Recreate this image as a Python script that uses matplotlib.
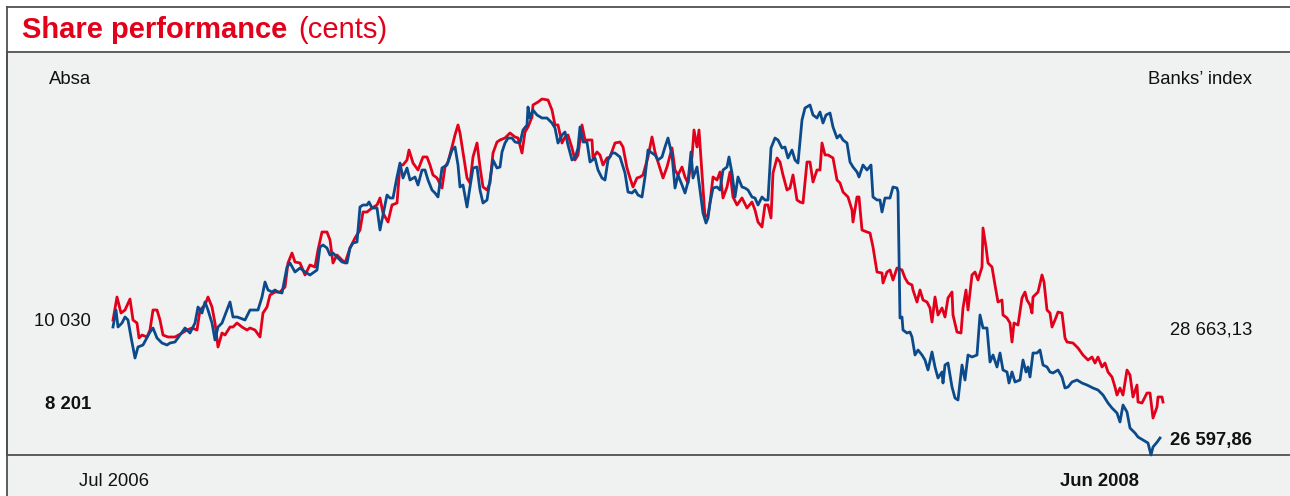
import matplotlib
matplotlib.use("Agg")
import matplotlib.pyplot as plt
from matplotlib.patches import Rectangle

# Absa share price (cents) and Banks' index, x in weeks since 1 Jul 2006
absa = [
    (0.0, 10030), (0.4, 10543), (0.8, 10186), (1.2, 10253), (1.7, 10498), (2.0, 10030),
    (2.4, 9963), (2.6, 9629), (2.9, 9695), (3.4, 9651), (3.7, 9807), (4.0, 10253),
    (4.4, 10253), (4.7, 10030), (5.0, 9695), (5.5, 9651), (6.2, 9651), (6.9, 9740),
    (7.4, 9807), (7.9, 9852), (8.4, 9807), (8.7, 10253), (9.2, 10365), (9.5, 10543),
    (9.9, 10320), (10.2, 9963), (10.5, 9428), (10.9, 9740), (11.2, 9695), (11.7, 9874),
    (12.0, 9874), (12.4, 9963), (12.9, 9874), (13.4, 9807), (13.7, 9852), (14.2, 9807),
    (14.7, 9651), (15.0, 10186), (15.4, 10320), (15.7, 10588), (16.2, 10654), (16.7, 10654),
    (17.2, 10766), (17.5, 11301), (17.9, 11524), (18.2, 11323), (18.7, 11301), (19.2, 11034),
    (19.7, 11257), (20.2, 11212), (20.5, 11591), (20.9, 11992), (21.4, 11992), (21.7, 11814),
    (22.0, 11301), (22.4, 11480), (22.9, 11368), (23.2, 11301), (23.7, 11636), (24.2, 11859),
    (24.7, 12037), (25.0, 12438), (25.4, 12438), (25.9, 12528), (26.4, 12595), (26.7, 12751),
    (27.0, 12416), (27.5, 12215), (27.9, 12595), (28.4, 12639), (28.7, 13487), (29.0, 13487),
    (29.4, 13598), (29.6, 13821), (30.0, 13531), (30.5, 13375), (31.0, 13665), (31.4, 13665),
    (31.7, 13487), (32.0, 13264), (32.4, 13197), (32.9, 12974), (33.2, 13442), (33.5, 13553),
    (33.9, 13888), (34.2, 14156), (34.5, 14379), (34.7, 14200), (35.0, 13776), (35.4, 13197),
    (35.7, 13085), (36.0, 13665), (36.4, 13977), (36.7, 13442), (37.0, 12996), (37.4, 12929),
    (37.7, 13085), (38.0, 13754), (38.4, 13999), (38.7, 14044), (39.2, 14089), (39.7, 14200),
    (40.2, 14111), (40.5, 14089), (40.9, 13754), (41.2, 14222), (41.5, 14334), (41.9, 14557),
    (42.0, 14825), (42.5, 14891), (42.9, 14958), (43.5, 14936), (43.9, 14713), (44.2, 14379),
    (44.5, 14379), (44.9, 13977), (45.2, 14111), (45.5, 14156), (45.9, 13866), (46.2, 13598),
    (46.5, 13710), (46.9, 14379), (47.2, 14044), (47.5, 14044), (47.9, 14044), (48.0, 13643),
    (48.4, 13776), (48.7, 13710), (49.0, 13487), (49.4, 13643), (49.7, 13665), (50.2, 13977),
    (50.7, 13999), (51.0, 13888), (51.4, 13420), (51.7, 13197), (52.0, 12996), (52.4, 13197),
    (52.7, 13219), (53.0, 13264), (53.5, 13665), (53.9, 14111), (54.2, 13776), (54.5, 13553),
    (55.0, 13197), (55.4, 13442), (55.9, 13866), (56.2, 13375), (56.5, 13264), (56.9, 13442),
    (57.2, 13219), (57.5, 13085), (57.9, 13665), (58.1, 14267), (58.4, 13888), (58.6, 14267),
    (58.9, 13308), (59.2, 12327), (59.5, 12372), (59.7, 12639), (60.0, 13219), (60.4, 13152),
    (60.7, 13330), (61.0, 12751), (61.4, 12996), (61.7, 13330), (62.0, 12773), (62.4, 12595),
    (62.9, 12751), (63.4, 12528), (63.9, 12661), (64.2, 12483), (64.5, 12215), (64.9, 12104),
    (65.2, 12595), (65.5, 12595), (65.8, 12305), (66.0, 13308), (66.4, 13643), (66.7, 13553),
    (67.0, 13264), (67.4, 12929), (67.7, 12974), (68.0, 13264), (68.4, 12706), (68.7, 12661),
    (69.0, 12639), (69.4, 13553), (69.7, 13553), (70.0, 13107), (70.4, 13375), (70.7, 13375),
    (70.9, 13977), (71.2, 13710), (71.5, 13710), (72.0, 13643), (72.4, 13152), (72.7, 13085),
    (73.0, 12884), (73.5, 12773), (73.9, 12483), (74.0, 12215), (74.4, 12773), (74.6, 12773),
    (74.9, 12037), (75.4, 11992), (75.7, 11970), (76.0, 11658), (76.4, 11100), (76.9, 11078),
    (77.0, 10855), (77.4, 11100), (77.7, 11145), (78.0, 10922), (78.4, 11190), (78.9, 11145),
    (79.2, 10967), (79.5, 10855), (79.9, 10811), (80.0, 10699), (80.4, 10431), (80.7, 10699),
    (81.0, 10476), (81.4, 10431), (81.7, 10298), (81.9, 9985), (82.2, 10543), (82.5, 10142),
    (82.9, 10298), (83.2, 10097), (83.5, 10521), (83.9, 10654), (84.0, 10142), (84.4, 9762),
    (84.8, 9740), (85.0, 10298), (85.3, 10699), (85.5, 10253), (85.9, 11034), (86.2, 11100),
    (86.5, 10922), (86.9, 11212), (87.0, 12082), (87.3, 11658), (87.5, 11301), (87.9, 11212),
    (88.2, 10811), (88.5, 10431), (88.9, 10476), (89.0, 10142), (89.4, 10075), (89.7, 9963),
    (89.9, 9539), (90.1, 9963), (90.5, 9918), (90.9, 10521), (91.2, 10654), (91.4, 10476),
    (91.7, 10365), (91.9, 10186), (92.0, 10543), (92.5, 10654), (92.9, 11034), (93.1, 10877),
    (93.4, 10253), (93.7, 10186), (93.9, 9874), (94.2, 10030), (94.5, 10208), (94.9, 10186),
    (95.2, 9629), (95.4, 9539), (96.0, 9517), (96.5, 9406), (97.0, 9249), (97.5, 9138),
    (97.9, 9205), (98.2, 9071), (98.5, 9205), (98.9, 8982), (99.2, 9071), (99.5, 8870),
    (99.9, 8759), (100.2, 8536), (100.4, 8357), (100.7, 8514), (101.0, 8357), (101.4, 8915),
    (101.7, 8803), (102.0, 8313), (102.4, 8580), (102.5, 8201), (102.9, 8179), (103.4, 8402),
    (103.7, 8402), (104.0, 7845), (104.4, 8090), (104.5, 8313), (104.9, 8313), (105.0, 8201),
]

banks = [
    (0.0, 28663), (0.3, 28979), (0.5, 28663), (0.9, 28737), (1.2, 28849), (1.5, 28793),
    (1.8, 28477), (2.2, 28086), (2.5, 28291), (3.0, 28328), (3.7, 28570), (4.0, 28644),
    (4.4, 28458), (4.9, 28365), (5.4, 28328), (5.7, 28365), (6.2, 28384), (6.7, 28514),
    (7.2, 28644), (7.7, 28551), (8.2, 28737), (8.5, 29035), (8.9, 28923), (9.2, 29128),
    (9.5, 28979), (9.9, 28737), (10.2, 28421), (10.5, 28663), (10.9, 28737), (11.4, 28979),
    (11.7, 29128), (12.0, 28849), (12.4, 28849), (12.7, 28830), (13.2, 28793), (13.7, 28979),
    (14.2, 28979), (14.5, 28979), (14.9, 29221), (15.2, 29500), (15.5, 29351), (15.9, 29314),
    (16.2, 29351), (16.5, 29314), (16.9, 29295), (17.4, 29779), (17.7, 29853), (18.2, 29686),
    (18.7, 29760), (19.2, 29686), (19.7, 29630), (20.4, 29723), (20.7, 30151), (21.0, 30188),
    (21.4, 30132), (21.7, 30002), (22.0, 30039), (22.5, 29946), (22.9, 29872), (23.4, 29853),
    (23.7, 30132), (24.0, 30225), (24.4, 30244), (24.7, 30895), (25.0, 30932), (25.4, 30932),
    (25.6, 30988), (25.9, 30876), (26.4, 30876), (26.7, 30467), (27.0, 30746), (27.4, 31118),
    (27.7, 31062), (28.0, 31062), (28.4, 31453), (28.7, 31713), (29.0, 31434), (29.4, 31620),
    (29.7, 31397), (30.2, 31453), (30.5, 31304), (30.9, 31583), (31.2, 31583), (31.5, 31397),
    (31.9, 31211), (32.2, 31155), (32.5, 31081), (32.9, 31620), (33.4, 31676), (33.9, 31955),
    (34.2, 32011), (34.5, 31676), (34.7, 31267), (35.0, 31304), (35.4, 30895), (35.7, 31267),
    (36.0, 31620), (36.4, 31639), (36.7, 31211), (37.0, 30969), (37.4, 31025), (37.7, 31397),
    (38.0, 31769), (38.4, 31620), (38.7, 31639), (38.9, 31918), (39.2, 32085), (39.5, 32178),
    (39.9, 32178), (40.2, 32104), (40.7, 32085), (41.0, 32327), (41.4, 32420), (41.5, 32755),
    (41.7, 32550), (42.0, 32699), (42.4, 32606), (42.9, 32550), (43.4, 32550), (43.9, 32457),
    (44.2, 32364), (44.5, 32085), (44.9, 32234), (45.2, 32290), (45.5, 32048), (45.9, 31769),
    (46.2, 31806), (46.5, 31992), (46.7, 32383), (47.0, 32104), (47.4, 32104), (47.7, 31732),
    (48.2, 31806), (48.5, 31583), (48.9, 31434), (49.2, 31397), (49.5, 31769), (49.9, 31899),
    (50.2, 31899), (50.7, 31825), (51.2, 31527), (51.5, 31174), (51.9, 31155), (52.2, 31211),
    (52.5, 31118), (52.9, 31081), (53.2, 31453), (53.5, 31955), (53.9, 31899), (54.2, 31862),
    (54.5, 31769), (54.9, 31825), (55.2, 32011), (55.5, 32178), (55.9, 31862), (56.2, 31248),
    (56.5, 31490), (56.9, 31304), (57.2, 31155), (57.5, 31360), (57.8, 31918), (58.0, 31434),
    (58.4, 31639), (58.7, 31211), (59.0, 30783), (59.3, 30597), (59.5, 30690), (59.7, 30969),
    (60.0, 31248), (60.4, 31267), (60.7, 31211), (61.0, 31583), (61.4, 31639), (61.6, 31825),
    (61.9, 31527), (62.2, 31081), (62.5, 31453), (62.9, 31267), (63.2, 31248), (63.5, 31211),
    (63.9, 31081), (64.2, 31062), (64.5, 30932), (64.9, 31081), (65.2, 31025), (65.5, 31025),
    (65.8, 31992), (66.2, 32178), (66.5, 32141), (66.9, 31992), (67.2, 32011), (67.5, 31806),
    (67.9, 31955), (68.2, 31769), (68.5, 31713), (68.9, 32513), (69.2, 32736), (69.7, 32792),
    (70.0, 32606), (70.4, 32550), (70.7, 32662), (71.0, 32457), (71.3, 32606), (71.7, 32643),
    (72.0, 32383), (72.4, 32178), (72.7, 32234), (73.0, 32141), (73.4, 32085), (73.7, 31732),
    (74.0, 31639), (74.4, 31546), (74.6, 31453), (75.0, 31676), (75.4, 31583), (75.8, 31676),
    (76.0, 31081), (76.4, 31025), (76.7, 31025), (76.9, 30802), (77.2, 31062), (77.7, 31062),
    (78.0, 31267), (78.4, 31248), (78.5, 31174), (78.7, 28830), (78.9, 28849), (79.0, 28607),
    (79.4, 28551), (79.7, 28570), (79.9, 28477), (80.2, 28142), (80.5, 28235), (80.9, 28142),
    (81.2, 28049), (81.5, 27863), (81.9, 28198), (82.2, 27919), (82.5, 27714), (82.9, 27826),
    (83.0, 27621), (83.2, 27956), (83.5, 27993), (83.9, 27547), (84.2, 27342), (84.5, 27305),
    (84.9, 27956), (85.2, 27677), (85.5, 28142), (85.9, 28105), (86.4, 28142), (86.7, 28886),
    (87.0, 28644), (87.4, 28644), (87.7, 28012), (88.0, 28142), (88.4, 27919), (88.7, 28179),
    (89.0, 27863), (89.4, 27826), (89.6, 27621), (89.9, 27826), (90.2, 27640), (90.7, 27677),
    (91.0, 28049), (91.3, 27826), (91.5, 27919), (91.7, 27733), (92.0, 28179), (92.4, 28179),
    (92.7, 28235), (93.0, 27956), (93.4, 27919), (93.7, 27826), (94.0, 27807), (94.5, 27863),
    (94.9, 27733), (95.2, 27528), (95.5, 27547), (95.9, 27640), (96.4, 27677), (96.9, 27621),
    (97.4, 27584), (98.0, 27528), (98.5, 27491), (99.0, 27398), (99.5, 27249), (99.9, 27156),
    (100.4, 27063), (100.7, 26896), (101.0, 27212), (101.4, 27082), (101.7, 26784), (102.2, 26691),
    (102.5, 26617), (103.0, 26561), (103.5, 26505), (103.8, 26282), (104.0, 26431), (104.4, 26520),
    (104.7, 26598),
]

absa_week, absa_cents = zip(*absa)
banks_week, banks_index = zip(*banks)

RED = "#e2001a"
BLUE = "#0b4a8b"
PANEL = "#f0f1f1"
FRAME = "#505050"
W, H = 1290, 496

plt.rcParams["font.family"] = ["Liberation Sans", "DejaVu Sans"]

fig = plt.figure(figsize=(W / 100, H / 100), dpi=100)


def fx(px):
    return px / W


def fy(py):
    return 1 - py / H


# background frame: grey panel with a white title strip on top
bg = fig.add_axes([fx(7), 0, 1 - fx(7), fy(7)])
bg.set_xlim(0, 1); bg.set_ylim(0, 1)
bg.set_facecolor(PANEL)
bg.add_patch(Rectangle((0, fy(52) / fy(7)), 1, 1, color="white", zorder=0))
bg.set_xticks([]); bg.set_yticks([])
for side in ("right", "bottom"):
    bg.spines[side].set_visible(False)
for side in ("left", "top"):
    bg.spines[side].set_color(FRAME); bg.spines[side].set_linewidth(1.3)

# plotting area
ax = fig.add_axes([fx(7), fy(455), 1 - fx(7), fy(52) - fy(455)])
ax.patch.set_visible(False)
ax.set_xticks([]); ax.set_yticks([])
ax.spines["right"].set_visible(False)
for side in ("left", "top", "bottom"):
    ax.spines[side].set_color(FRAME); ax.spines[side].set_linewidth(1.3)

ax.plot(absa_week, absa_cents, color=RED, lw=2.0, solid_joinstyle="round")
ax.set_xlim(-10.6, 117.7)
ax.set_ylim(7020, 16006)

ax2 = ax.twinx()
ax2.plot(banks_week, banks_index, color=BLUE, lw=2.0, solid_joinstyle="round", clip_on=False)
ax2.set_ylim(26282, 33778)
ax2.set_yticks([])
for s in ax2.spines.values():
    s.set_visible(False)

# title
fig.text(fx(22), fy(37.5), "Share performance", color=RED, fontsize=21,
         fontweight="bold", va="baseline")
fig.text(fx(298), fy(37.5), "(cents)", color=RED, fontsize=21, va="baseline")

# labels
lab = dict(fontsize=13.3, va="baseline", color="#111111")
fig.text(fx(91), fy(84.5), "Absa", ha="right", **lab)
fig.text(fx(91), fy(326.5), "10 030", ha="right", **lab)
fig.text(fx(91), fy(409), "8 201", ha="right", fontweight="bold", **lab)
fig.text(fx(1252), fy(84), "Banks\u2019 index", ha="right", **lab)
fig.text(fx(1252), fy(334.5), "28 663,13", ha="right", **lab)
fig.text(fx(1252), fy(445.5), "26 597,86", ha="right", fontweight="bold", **lab)
fig.text(fx(114), fy(485.5), "Jul 2006", ha="center", **lab)
fig.text(fx(1099), fy(485.5), "Jun 2008", ha="center", fontweight="bold", **lab)

fig.savefig("out.png", dpi=100)
